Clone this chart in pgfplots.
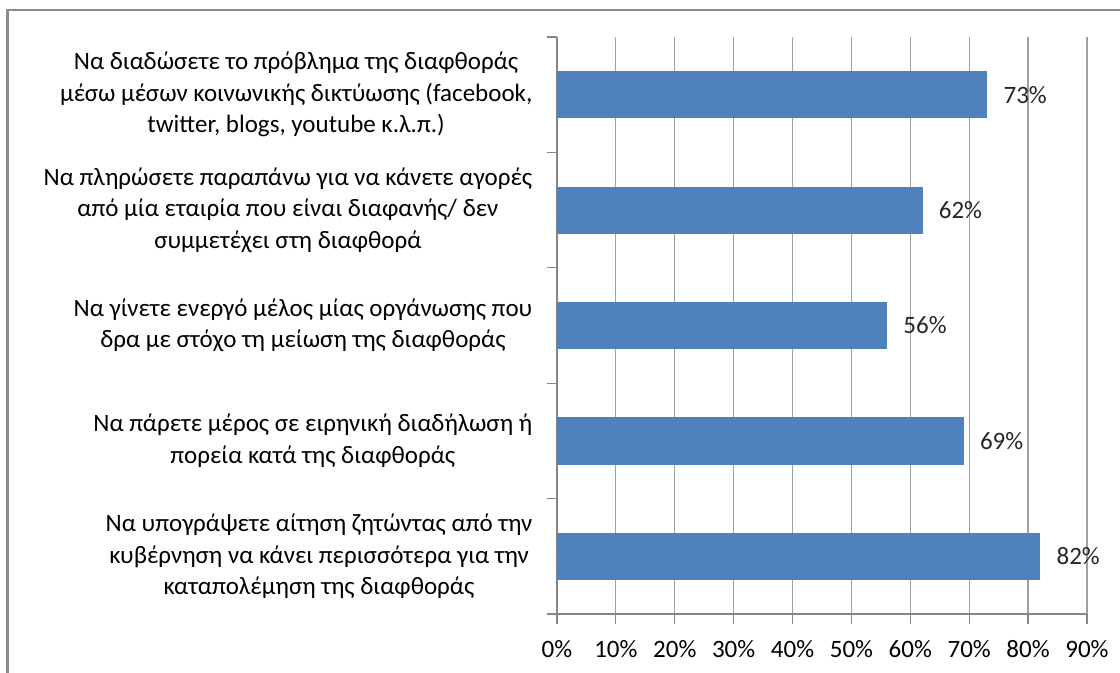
\documentclass[border=0pt]{standalone}
\usepackage{pgfplots}
\pgfplotsset{compat=1.18}
\usepackage{fontspec}
\setmainfont{Carlito}
\definecolor{barblue}{HTML}{4F81BD}
\definecolor{gridgray}{HTML}{A0A0A0}
\definecolor{axisgray}{HTML}{868686}
\definecolor{framegray}{HTML}{8C8C8C}
\begin{document}
\fontsize{12.5}{15.75}\selectfont
\begin{tikzpicture}
\path[use as bounding box] (0,0) rectangle (560pt,-336.5pt);
\draw[framegray, line width=1.3pt] (3.8pt,-336.5pt) -- (3.8pt,-5pt) -- (560pt,-5pt);
\begin{axis}[
  at={(278.5pt,-307pt)}, anchor=south west,
  scale only axis, width=265pt, height=288.5pt,
  xmin=0, xmax=90, ymin=-0.5, ymax=4.5,
  axis x line*=bottom, axis y line*=left,
  axis line style={axisgray, line width=0.6pt},
  tick align=outside,
  major tick length=5pt,
  tick style={axisgray, line width=0.6pt},
  xtick={0,10,...,90},
  xticklabel={\pgfmathprintnumber{\tick}\%},
  /pgf/number format/assume math mode=true,
  xmajorgrids,
  grid style={gridgray, line width=0.6pt},
  ytick={-0.5,0.5,...,4.5},
  yticklabels={},
  extra y ticks={0,1,2,3,4},
  extra y tick labels={
    {Να υπογράψετε αίτηση ζητώντας από την\\κυβέρνηση να κάνει περισσότερα για την\\καταπολέμηση της διαφθοράς},
    {Να πάρετε μέρος σε ειρηνική διαδήλωση ή\\πορεία κατά της διαφθοράς},
    {Να γίνετε ενεργό μέλος μίας οργάνωσης που\\δρα με στόχο τη μείωση της διαφθοράς},
    {Να πληρώσετε παραπάνω για να κάνετε αγορές\\από μία εταιρία που είναι διαφανής/ δεν\\συμμετέχει στη διαφθορά},
    {Να διαδώσετε το πρόβλημα της διαφθοράς\\μέσω μέσων κοινωνικής δικτύωσης (facebook,\\twitter, blogs, youtube κ.λ.π.)}},
  extra y tick style={major tick length=0pt, tick style={draw=none},
    yticklabel style={align=center, xshift=-8pt}},
  xticklabel style={yshift=-4pt},
  tick label style={font=\fontsize{12.5}{15.75}\selectfont},
  xbar, bar width=0.4,
  nodes near coords={\pgfmathprintnumber{\pgfplotspointmeta}\%},
  every node near coord/.append style={anchor=west, xshift=4pt, font=\fontsize{12.5}{15.75}\selectfont, black!85},
]
\addplot[fill=barblue, draw=barblue] coordinates {(82,0) (69,1) (56,2) (62,3) (73,4)};
\end{axis}
\end{tikzpicture}
\end{document}
